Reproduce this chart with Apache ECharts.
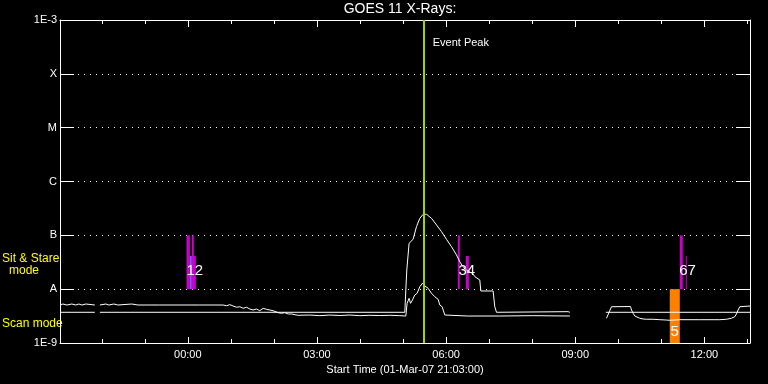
<!DOCTYPE html>
<html>
<head>
<meta charset="utf-8">
<script src="https://cdn.jsdelivr.net/npm/echarts@6/dist/echarts.min.js"></script>
<style>
html,body{margin:0;padding:0;background:#000;}
#chart{width:768px;height:384px;}
</style>
</head>
<body>
<div id="chart"></div>
<script>
// ---- data (time in hours relative to 00:00 on 02-Mar-07; flux in W/m^2) ----
const titleText = 'GOES 11 X-Rays:';
const xAxisTitle = 'Start Time (01-Mar-07 21:03:00)';
const timeMin = -2.97, timeMax = 13.06;
const majorTickHours = [0, 3, 6, 9, 12];
const minorTickHours = [-2, -1, 1, 2, 4, 5, 7, 8, 10, 11, 13];
const yTickLabels = {'-9': '1E-9', '-8': 'A', '-7': 'B', '-6': 'C', '-5': 'M', '-4': 'X', '-3': '1E-3'};

const shortTimes = [-2.97,-2.904,-2.811,-2.695,-2.602,-2.532,-2.462,-2.369,-2.323,-2.160,-2.10,-2.044,-1.905,-1.835,-1.719,-1.626,-1.301,-1.161,-0.650,0.279,0.813,0.899,0.976,1.052,1.131,1.208,1.285,1.364,1.440,1.517,1.596,1.672,1.749,1.828,1.905,1.981,2.098,2.177,2.253,2.330,2.409,2.486,2.562,2.834,3.066,3.298,3.531,3.763,3.995,4.228,4.460,4.692,4.925,5.064,5.094,5.140,5.173,5.219,5.272,5.326,5.389,5.452,5.505,5.582,5.661,5.737,5.814,5.854,5.907,5.970,6.009,6.5,7.247,8.014,8.874,9.3,9.726,9.842,10.284,10.307,10.345,10.383,10.422,10.499,10.576,10.655,10.808,10.964,11.120,11.196,11.429,11.893,12.358,12.513,12.630,12.706,12.745,12.784,12.823,12.862,13.06];
const shortFlux = [5.08e-9,5.30e-9,5.08e-9,5.30e-9,5.08e-9,5.30e-9,5.08e-9,5.30e-9,5.08e-9,5.08e-9,null,5.08e-9,5.30e-9,5.08e-9,5.30e-9,5.08e-9,5.30e-9,5.08e-9,5.08e-9,5.08e-9,5.08e-9,4.93e-9,5.15e-9,4.87e-9,4.61e-9,4.72e-9,4.41e-9,4.61e-9,4.28e-9,4.10e-9,4.28e-9,3.98e-9,4.41e-9,4.23e-9,4.10e-9,3.98e-9,3.66e-9,3.56e-9,3.66e-9,3.46e-9,3.46e-9,3.36e-9,3.27e-9,3.31e-9,3.22e-9,3.31e-9,3.24e-9,3.31e-9,3.22e-9,3.27e-9,3.24e-9,3.27e-9,3.22e-9,3.17e-9,5.46e-9,6.76e-9,5.46e-9,6.29e-9,7.80e-9,8.38e-9,1.11e-8,1.29e-8,1.15e-8,1.04e-8,8.38e-9,7.24e-9,6.49e-9,5.08e-9,4.72e-9,3.31e-9,3.17e-9,3.17e-9,3.17e-9,3.22e-9,3.17e-9,null,2.88e-9,4.72e-9,4.76e-9,4.10e-9,3.56e-9,3.17e-9,2.95e-9,2.88e-9,2.79e-9,2.76e-9,2.76e-9,2.71e-9,2.67e-9,2.64e-9,2.71e-9,2.71e-9,2.71e-9,2.76e-9,2.88e-9,3.08e-9,3.46e-9,4.10e-9,4.72e-9,4.87e-9,4.87e-9];

const longTimes = [-2.97,-2.160,-2.10,-2.044,5.041,5.064,5.087,5.140,5.233,5.312,5.389,5.466,5.545,5.661,5.777,5.893,6.009,6.125,6.242,6.318,6.381,6.488,6.613,6.667,6.783,6.806,7.092,7.131,7.171,8.834,8.874,9.3,9.710,13.06];
const longFlux = [3.72e-9,3.72e-9,null,3.72e-9,3.72e-9,9.65e-9,2.27e-8,7.11e-8,8.43e-8,1.45e-7,2.07e-7,2.46e-7,2.46e-7,2.07e-7,1.56e-7,1.17e-7,8.43e-8,6.15e-8,4.32e-8,3.24e-8,2.69e-8,2.20e-8,1.97e-8,1.71e-8,1.48e-8,9.25e-9,9.25e-9,4.72e-9,3.72e-9,3.82e-9,3.72e-9,null,3.72e-9,3.72e-9];

const eventPeakTime = 5.48;
const eventPeakText = 'Event Peak';

// observation bars: start, end (hours), low/high flux, kind
const barStart = [-0.030, 0.046, 0.093, 0.093, 6.272, 6.458, 11.196, 11.429, 11.568];
const barEnd   = [ 0.046, 0.093, 0.186, 0.139, 6.318, 6.528, 11.429, 11.498, 11.591];
const barLow   = [1e-8, 1e-8, 1e-8, 1e-8, 1e-8, 1e-8, 1e-9, 1e-8, 1e-8];
const barHigh  = [1e-7, 4.13e-8, 4.13e-8, 1e-7, 1e-7, 4.13e-8, 1e-8, 1e-7, 4.13e-8];
const barKind  = ['sit', 'sit2', 'sit', 'sit', 'sit', 'sit', 'scan', 'sit', 'sit'];

const eventLabels = ['12', '34', '67', '5'];
const eventLabelTime = [0.163, 6.48, 11.61, 11.31];
const eventLabelFlux = [2.18e-8, 2.18e-8, 2.18e-8, 1.6e-9];

const leftLabels = ['Sit & Stare', 'mode', 'Scan mode'];

// ---- build ----
const kindColor = {sit: '#cc00cc', sit2: '#7d5cff', scan: '#ff8000'};
const FONT = 'Liberation Sans';
const zip = (a, b) => a.map((v, i) => [v, b[i]]);

const chart = echarts.init(document.getElementById('chart'), null, {renderer: 'canvas'});

const baseX = {type: 'value', min: timeMin, max: timeMax, splitLine: {show: false}, axisLabel: {show: false}};
function xAx(pos, ticks, len, showLine, labels) {
  return Object.assign({}, baseX, {
    position: pos,
    axisLine: {show: showLine, onZero: false, lineStyle: {color: '#fff', width: 1}},
    axisTick: {show: true, inside: true, length: len, customValues: ticks, lineStyle: {color: '#fff', width: 1}},
    axisLabel: labels ? {show: true, customValues: ticks, color: '#fff', fontFamily: FONT, fontSize: 11, margin: 6,
      formatter: v => { const h = ((Math.round(v) % 24) + 24) % 24; return (h < 10 ? '0' : '') + h + ':00'; }} : {show: false}
  });
}
const xAxes = [
  Object.assign(xAx('bottom', majorTickHours, 6, true, true), {name: xAxisTitle, nameLocation: 'middle', nameGap: 19,
    nameTextStyle: {color: '#fff', fontFamily: FONT, fontSize: 11}}),
  xAx('bottom', minorTickHours, 4, false, false),
  xAx('top', majorTickHours, 7, true, false),
  xAx('top', minorTickHours, 4, false, false)
];

const yBase = {type: 'log', logBase: 10, min: 1e-9, max: 1e-3, splitNumber: 6};
const yAxes = [
  Object.assign({}, yBase, {
    position: 'left',
    axisLine: {show: true, onZero: false, lineStyle: {color: '#fff', width: 1}},
    axisTick: {show: true, inside: true, length: 14, lineStyle: {color: '#fff', width: 1}},
    axisLabel: {color: '#fff', fontFamily: FONT, fontSize: 11, margin: 3,
      formatter: v => yTickLabels[String(Math.round(Math.log10(v)))] || ''},
    splitLine: {show: true, lineStyle: {color: '#fff', type: [1, 5], width: 1}}
  }),
  Object.assign({}, yBase, {
    position: 'right',
    axisLine: {show: true, onZero: false, lineStyle: {color: '#fff', width: 1}},
    axisTick: {show: true, inside: true, length: 14, lineStyle: {color: '#fff', width: 1}},
    axisLabel: {show: false},
    splitLine: {show: false}
  })
];

const barData = barStart.map((s, i) => [s, barEnd[i], barLow[i], barHigh[i], i]);
const labelData = eventLabels.map((t, i) => [eventLabelTime[i], eventLabelFlux[i], i]);

chart.setOption({
  backgroundColor: '#000',
  animation: false,
  grid: {left: 60, right: 18, top: 20, bottom: 41, containLabel: false},
  xAxis: xAxes,
  yAxis: yAxes,
  series: [
    {
      type: 'custom', name: 'bars', xAxisIndex: 0, yAxisIndex: 0, z: 1,
      data: barData,
      encode: {x: [0, 1], y: [2, 3]},
      renderItem: (params, api) => {
        const p0 = api.coord([api.value(0), api.value(3)]);
        const p1 = api.coord([api.value(1), api.value(2)]);
        const k = barKind[api.value(4)];
        return {type: 'rect', shape: {x: p0[0], y: p0[1], width: Math.max(1, p1[0] - p0[0]), height: p1[1] - p0[1]},
          style: {fill: kindColor[k]}};
      }
    },
    {
      type: 'line', name: 'short', xAxisIndex: 0, yAxisIndex: 0, z: 3,
      data: zip(shortTimes, shortFlux), showSymbol: false, symbol: 'none', connectNulls: false,
      lineStyle: {color: '#fff', width: 1}, itemStyle: {color: '#fff'}
    },
    {
      type: 'line', name: 'long', xAxisIndex: 0, yAxisIndex: 0, z: 3,
      data: zip(longTimes, longFlux), showSymbol: false, symbol: 'none', connectNulls: false,
      lineStyle: {color: '#fff', width: 1}, itemStyle: {color: '#fff'},
      markLine: {silent: true, symbol: 'none', label: {show: false},
        lineStyle: {color: '#a3d400', width: 2, type: 'solid'}, data: [{xAxis: eventPeakTime}]}
    },
    {
      type: 'custom', name: 'labels', xAxisIndex: 0, yAxisIndex: 0, z: 5,
      data: labelData,
      encode: {x: 0, y: 1},
      renderItem: (params, api) => {
        const p = api.coord([api.value(0), api.value(1)]);
        return {type: 'text', x: p[0], y: p[1],
          style: {text: eventLabels[api.value(2)], fill: '#fff', fontFamily: FONT, fontSize: 15,
            align: 'center', verticalAlign: 'middle'}};
      }
    }
  ]
});

const peakX = chart.convertToPixel({xAxisIndex: 0}, eventPeakTime);
chart.setOption({
  graphic: [
    {type: 'text', x: 400, y: 9, style: {text: titleText, fill: '#fff', fontFamily: FONT, fontSize: 14, align: 'center', verticalAlign: 'middle'}},
    {type: 'text', x: peakX + 9, y: 43, style: {text: eventPeakText, fill: '#fff', fontFamily: FONT, fontSize: 11, align: 'left', verticalAlign: 'middle'}},
    {type: 'text', x: 2, y: 259, style: {text: leftLabels[0], fill: '#ffff00', fontFamily: FONT, fontSize: 12, align: 'left', verticalAlign: 'middle'}},
    {type: 'text', x: 24, y: 271, style: {text: leftLabels[1], fill: '#ffff00', fontFamily: FONT, fontSize: 12, align: 'center', verticalAlign: 'middle'}},
    {type: 'text', x: 2, y: 324, style: {text: leftLabels[2], fill: '#ffff00', fontFamily: FONT, fontSize: 12, align: 'left', verticalAlign: 'middle'}}
  ]
});
</script>
</body>
</html>
